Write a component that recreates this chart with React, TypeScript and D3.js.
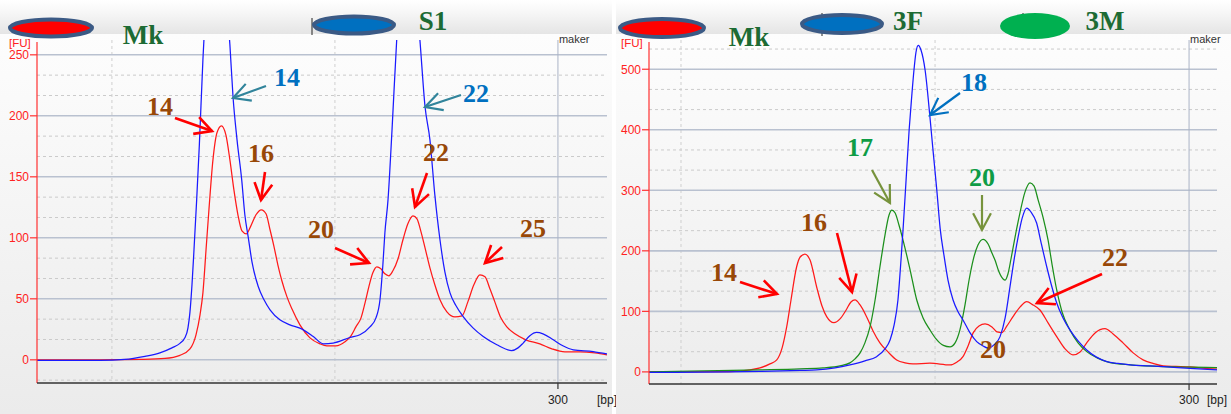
import React from "react";
import * as d3 from "d3";

type Pt = [number, number];

// ---------- DATA (x = position on the bp axis, y = fluorescence [FU]) ----------
const leftMk: Pt[] = [
  [66.4, 0], [94.6, 0], [112.6, 0.4], [123.8, 1.2], [130.5, 3.7], [135.0, 9.0], [137.7, 20.5], [139.5, 36.9],
  [140.8, 54.9], [142.2, 90.2], [143.5, 123.0], [145.3, 163.9], [147.1, 186.1], [149.1, 191.8], [151.1, 184.4],
  [152.9, 163.9], [154.7, 139.3], [156.5, 118.9], [158.3, 105.7], [160.3, 103.3], [162.3, 109.8], [164.6, 118.9],
  [167.0, 123.0], [169.1, 119.7], [170.9, 106.6], [172.6, 93.4], [174.4, 77.9], [176.2, 64.8], [178.5, 51.6],
  [180.7, 41.8], [184.3, 28.7], [188.8, 18.0], [193.3, 13.1], [196.4, 11.5], [200.4, 11.5], [204.5, 14.8],
  [207.2, 19.7], [209.4, 27.0], [211.7, 34.4], [213.5, 46.7], [215.2, 59.8], [217.0, 71.3], [218.8, 76.2],
  [220.6, 74.6], [222.4, 70.5], [224.2, 68.9], [226.0, 73.0], [228.3, 82.8], [230.5, 98.4], [232.7, 111.5],
  [235.0, 118.0], [236.8, 115.6], [238.6, 104.9], [240.4, 91.8], [242.6, 75.4], [244.8, 61.5], [247.1, 49.2],
  [250.2, 39.3], [253.8, 35.2], [257.0, 36.1], [259.6, 47.5], [262.3, 61.5], [265.0, 69.7], [267.3, 68.0],
  [269.5, 58.2], [271.7, 47.5], [274.4, 34.4], [277.1, 27.0], [280.7, 21.3], [285.6, 16.4], [291.9, 13.1],
  [297.3, 9.0], [303.1, 6.6], [309.9, 6.6], [316.6, 5.7], [322.0, 4.1],
];

const leftS1: Pt[] = [
  [66.4, -0.4], [94.6, -0.4], [105.8, 0.4], [114.8, 2.9], [121.5, 5.7], [126.9, 9.8], [130.5, 13.5], [132.7, 18.0],
  [134.1, 26.2], [135.0, 39.3], [135.9, 61.5], [136.8, 90.2], [138.0, 131.1], [139.2, 176.2], [140.8, 245.9],
  [142.2, 291.0], [143.9, 323.8], [146.9, 344.3], [149.8, 323.8], [151.6, 291.0], [152.9, 258.2], [154.3, 215.6],
  [156.1, 180.3], [158.2, 147.5], [159.6, 118.9], [161.1, 100.8], [162.8, 80.3], [165.6, 60.1], [168.2, 49.2],
  [170.9, 41.0], [175.3, 32.8], [179.8, 28.7], [184.3, 26.0], [190.3, 19.1], [194.8, 13.1], [199.2, 13.7],
  [206.7, 18.3], [211.2, 20.5], [215.7, 27.0], [218.4, 34.4], [220.2, 49.2], [221.5, 77.9], [222.4, 104.1],
  [223.8, 131.1], [225.6, 188.5], [227.7, 262.3], [229.1, 299.2], [230.5, 319.7], [232.7, 332.0], [235.0, 319.7],
  [236.8, 291.0], [238.1, 262.3], [240.4, 207.6], [242.6, 180.3], [244.8, 135.2], [247.1, 98.4], [249.3, 72.1],
  [251.6, 54.9], [254.3, 44.3], [257.5, 35.5], [261.9, 26.2], [266.5, 19.1], [272.6, 12.3], [279.2, 7.6],
  [282.1, 9.8], [284.4, 13.7], [287.4, 19.7], [290.4, 22.4], [293.3, 21.3], [297.9, 16.4], [302.2, 11.5],
  [306.9, 8.2], [315.8, 6.8], [322.0, 4.9],
];

const rightMk: Pt[] = [
  [87.4, 0], [119.3, 0.5], [127.2, 3.3], [131.1, 6.6], [135.0, 13.2], [137.7, 19.8], [139.8, 39.6], [141.6, 74.3],
  [143.3, 118.8], [145.5, 173.3], [146.9, 189.8], [148.8, 194.7], [150.8, 184.8], [153.4, 140.3], [155.5, 108.9],
  [157.4, 90.8], [158.7, 84.2], [160.2, 81.4], [162.6, 87.5], [165.0, 102.3], [166.9, 115.5], [168.5, 118.8],
  [170.5, 110.6], [173.1, 90.8], [175.6, 67.7], [178.3, 47.9], [181.5, 33.0], [184.9, 19.8], [188.2, 14.9],
  [191.3, 13.2], [198.0, 14.4], [205.9, 11.6], [208.7, 16.5], [211.0, 25.2], [213.0, 42.9], [215.0, 64.4],
  [217.3, 75.9], [219.7, 79.2], [222.4, 74.3], [224.4, 66.0], [226.3, 64.9], [228.3, 75.9], [230.7, 91.3],
  [233.5, 107.3], [236.1, 116.0], [238.6, 110.6], [241.3, 102.3], [244.5, 80.9], [247.9, 58.3], [251.2, 38.0],
  [254.3, 28.1], [257.1, 33.0], [259.7, 47.9], [263.0, 64.4], [266.9, 71.5], [270.1, 62.7], [274.0, 47.9],
  [278.0, 31.4], [281.9, 19.8], [285.8, 14.0], [289.8, 9.9], [294.9, 9.1], [300.4, 8.3], [306.3, 5.8], [311.0, 4.5],
];

const right3F: Pt[] = [
  [87.4, -0.8], [118.0, 0], [131.1, 0.8], [146.9, 2.5], [153.4, 3.3], [160.6, 6.6], [166.5, 11.6], [172.4, 18.2],
  [177.0, 25.2], [180.3, 38.0], [182.3, 52.8], [183.9, 77.6], [185.4, 118.8], [186.6, 184.8], [187.4, 234.3],
  [188.6, 316.8], [189.8, 399.3], [190.8, 453.8], [191.7, 498.3], [192.5, 528.1], [193.4, 539.6], [194.5, 531.4],
  [196.1, 498.3], [198.0, 420.8], [199.2, 366.3], [200.7, 300.3], [202.0, 237.6], [203.5, 193.1], [205.1, 151.8],
  [207.1, 118.8], [209.1, 99.0], [211.0, 85.8], [213.8, 64.4], [216.4, 50.0], [218.9, 42.9], [220.9, 39.1],
  [223.2, 44.6], [225.6, 58.3], [227.6, 89.1], [229.5, 140.3], [231.1, 184.8], [232.7, 222.8], [234.3, 254.1],
  [236.1, 270.6], [237.8, 264.0], [240.0, 245.9], [241.7, 214.5], [244.0, 173.3], [245.7, 145.2], [247.9, 113.9],
  [250.4, 89.1], [253.1, 69.3], [256.3, 51.2], [259.7, 36.3], [263.4, 24.8], [267.6, 17.0], [272.0, 14.0],
  [276.8, 11.6], [284.6, 9.9], [289.8, 8.7], [300.4, 5.8], [311.0, 3.3],
];

const right3M: Pt[] = [
  [87.4, 0], [131.1, 3.3], [146.9, 5.0], [155.9, 6.6], [162.6, 9.9], [166.5, 14.9], [168.5, 21.5], [170.5, 31.4],
  [172.4, 47.9], [174.4, 74.3], [176.4, 118.8], [178.3, 173.3], [180.3, 226.1], [181.9, 259.1], [183.0, 267.3],
  [184.3, 262.4], [185.8, 242.6], [187.4, 217.8], [190.2, 168.3], [192.8, 118.8], [195.3, 89.1], [198.0, 69.3],
  [200.4, 54.5], [203.3, 43.7], [205.9, 41.3], [207.9, 47.9], [209.8, 69.3], [211.8, 110.6], [213.4, 151.8],
  [215.0, 184.8], [216.9, 209.6], [218.9, 219.0], [220.9, 211.2], [222.4, 196.4], [223.6, 184.8], [225.2, 165.0],
  [226.8, 153.5], [227.6, 151.8], [228.7, 161.7], [229.9, 186.5], [231.5, 222.8], [233.5, 264.0], [235.4, 297.0],
  [237.4, 312.4], [239.0, 306.9], [240.6, 283.8], [242.5, 255.8], [244.5, 217.8], [246.1, 176.6], [247.9, 135.3],
  [250.0, 99.0], [253.1, 69.3], [256.3, 47.9], [259.7, 33.5], [263.8, 23.1], [268.9, 15.3], [276.8, 11.6],
  [289.8, 8.7], [300.4, 7.8], [311.0, 7.1],
];

const leftYTicks = [0, 50, 100, 150, 200, 250];
const rightYTicks = [0, 100, 200, 300, 400, 500];
const xMinorGrid = [100, 200];
const xLabeledTick = 300;

// ---------- LAYOUT ----------
type Cfg = {
  id: string;
  bgX0: number; bgX1: number;
  x0: number; x1: number; yTop: number; yBottom: number;
  xDomain: [number, number]; yDomain: [number, number];
  yTicks: number[]; minorStep: number;
};

const leftCfg: Cfg = {
  id: "L", bgX0: 0, bgX1: 612, x0: 37, x1: 607, yTop: 41.4, yBottom: 383,
  xDomain: [66.4, 322], yDomain: [-19, 261], yTicks: leftYTicks, minorStep: 50 / 3,
};
const rightCfg: Cfg = {
  id: "R", bgX0: 616, bgX1: 1231, x0: 649, x1: 1217, yTop: 42, yBottom: 384,
  xDomain: [87.4, 311], yDomain: [-20, 545], yTicks: rightYTicks, minorStep: 100 / 3,
};

const TRACE = { red: "#ff1a1a", blue: "#1a1aff", green: "#1b8f1b" };
const BROWN = "#984807";
const DKGREEN = "#1d6b34";
const TEXTBLUE = "#0070c0";
const LGREEN = "#0e9c45";
const TEAL = "#31849b";
const OLIVE = "#77933c";
const SERIF = "'Liberation Serif', 'Times New Roman', serif";
const SANS = "'Liberation Sans', Arial, sans-serif";

function Arrow({ x1, y1, x2, y2, color, width = 2.6, head = 19, angle = 28 }:
  { x1: number; y1: number; x2: number; y2: number; color: string; width?: number; head?: number; angle?: number }) {
  const a = Math.atan2(y1 - y2, x1 - x2);
  const r = (angle * Math.PI) / 180;
  const p1 = [x2 + head * Math.cos(a + r), y2 + head * Math.sin(a + r)];
  const p2 = [x2 + head * Math.cos(a - r), y2 + head * Math.sin(a - r)];
  return (
    <g stroke={color} strokeWidth={width} fill="none" strokeLinejoin="miter">
      <line x1={x1} y1={y1} x2={x2} y2={y2} />
      <polyline points={`${p1[0]},${p1[1]} ${x2},${y2} ${p2[0]},${p2[1]}`} />
    </g>
  );
}

function Label({ x, y, text, color, size = 26 }: { x: number; y: number; text: string; color: string; size?: number }) {
  return (
    <text x={x} y={y} textAnchor="middle" fontFamily={SERIF} fontWeight="bold" fontSize={size} fill={color}>
      {text}
    </text>
  );
}

function Panel({ cfg, series }: { cfg: Cfg; series: { data: Pt[]; color: string }[] }) {
  const x = d3.scaleLinear().domain(cfg.xDomain).range([cfg.x0, cfg.x1]);
  const y = d3.scaleLinear().domain(cfg.yDomain).range([cfg.yBottom, cfg.yTop]);
  const line = d3.line<Pt>().x((d) => x(d[0])).y((d) => y(d[1])).curve(d3.curveMonotoneX);

  const minors: number[] = [];
  for (let k = -3; k * cfg.minorStep <= cfg.yDomain[1]; k++) {
    const v = k * cfg.minorStep;
    if (v < cfg.yDomain[0]) continue;
    if (Math.abs(k % 3) === 0) continue;
    minors.push(v);
  }
  const clipId = `clip${cfg.id}`;
  const plotTop = 40;

  return (
    <g>
      <defs>
        <clipPath id={clipId}>
          <rect x={cfg.x0} y={plotTop} width={cfg.x1 - cfg.x0} height={cfg.yBottom - plotTop} />
        </clipPath>
      </defs>
      {/* backgrounds */}
      <rect x={cfg.bgX0} y={0} width={cfg.bgX1 - cfg.bgX0} height={34} fill="url(#hdrGrad)" />
      <rect x={cfg.bgX0} y={34} width={cfg.bgX1 - cfg.bgX0} height={414 - 34} fill="url(#bodyGrad)" />

      {/* minor dashed horizontal grid */}
      {minors.map((v) => (
        <line key={"m" + v} x1={cfg.x0} x2={cfg.x1} y1={y(v)} y2={y(v)} stroke="#cbcbcb" strokeDasharray="3,3" strokeWidth={1} />
      ))}
      {/* vertical dashed grid */}
      {xMinorGrid.map((v) => (
        <line key={"vx" + v} x1={x(v)} x2={x(v)} y1={plotTop} y2={cfg.yBottom} stroke="#cfcfcf" strokeDasharray="3,3" strokeWidth={1} />
      ))}
      {/* major horizontal grid */}
      {cfg.yTicks.map((v) => (
        <line key={"M" + v} x1={cfg.x0} x2={cfg.x1} y1={y(v)} y2={y(v)} stroke="#b9c1d0" strokeWidth={1.6} />
      ))}
      {/* 300 bp line */}
      <line x1={x(xLabeledTick)} x2={x(xLabeledTick)} y1={plotTop} y2={cfg.yBottom} stroke="#aab3c6" strokeWidth={1} />
      <text x={x(xLabeledTick) + 1} y={43} fontFamily={SANS} fontSize={11} fill="#333">maker</text>

      {/* traces */}
      <g clipPath={`url(#${clipId})`}>
        {series.map((s, i) => (
          <path key={i} d={line(s.data) || ""} fill="none" stroke={s.color} strokeWidth={1.25} />
        ))}
      </g>

      {/* y axis */}
      <line x1={cfg.x0} x2={cfg.x0} y1={42} y2={cfg.yBottom} stroke="#ff3030" strokeWidth={1.2} />
      {cfg.yTicks.map((v) => (
        <g key={"t" + v}>
          <line x1={cfg.x0 - 7} x2={cfg.x0} y1={y(v)} y2={y(v)} stroke="#ff3030" strokeWidth={1.2} />
          <text x={cfg.x0 - 8} y={y(v)} dy="0.36em" textAnchor="end" fontFamily={SANS} fontSize={12} fill="#f22">
            {v}
          </text>
        </g>
      ))}
      <text x={cfg.x0 - 28} y={47} fontFamily={SANS} fontSize={11.5} fill="#f22">[FU]</text>

      {/* x axis */}
      <line x1={cfg.x0} x2={cfg.x1} y1={cfg.yBottom} y2={cfg.yBottom} stroke="#333" strokeWidth={1.5} />
      <line x1={x(xLabeledTick)} x2={x(xLabeledTick)} y1={cfg.yBottom} y2={cfg.yBottom + 6} stroke="#333" strokeWidth={1.2} />
      <text x={x(xLabeledTick)} y={404} textAnchor="middle" fontFamily={SANS} fontSize={12} fill="#222">{xLabeledTick}</text>
      <text x={cfg.x1} y={404} textAnchor="middle" fontFamily={SANS} fontSize={12} fill="#222">[bp]</text>
    </g>
  );
}

export default function App() {
  return (
    <div style={{ position: "fixed", left: 0, top: 0 }}>
      <svg width={1231} height={414} style={{ display: "block" }}>
        <defs>
          <linearGradient id="hdrGrad" x1="0" y1="0" x2="0" y2="1">
            <stop offset="0" stopColor="#ffffff" />
            <stop offset="0.35" stopColor="#f7f7f7" />
            <stop offset="1" stopColor="#e5e5e5" />
          </linearGradient>
          <linearGradient id="bodyGrad" x1="0" y1="0" x2="0" y2="1">
            <stop offset="0" stopColor="#fdfdfd" />
            <stop offset="1" stopColor="#ebebeb" />
          </linearGradient>
        </defs>
        <rect x={0} y={0} width={1231} height={414} fill="#ffffff" />

        <Panel cfg={leftCfg} series={[{ data: leftMk, color: TRACE.red }, { data: leftS1, color: TRACE.blue }]} />
        <Panel
          cfg={rightCfg}
          series={[
            { data: rightMk, color: TRACE.red },
            { data: right3M, color: TRACE.green },
            { data: right3F, color: TRACE.blue },
          ]}
        />

        {/* legend ellipses */}
        <line x1={312} x2={312} y1={18} y2={35} stroke="#222" strokeWidth={1} />
        <line x1={822} x2={822} y1={13} y2={36} stroke="#222" strokeWidth={1} />
        <line x1={1023} x2={1023} y1={13} y2={22} stroke="#222" strokeWidth={1} />
        <ellipse cx={51} cy={28} rx={41} ry={8.5} fill="#ff0000" stroke="#3b5a85" strokeWidth={4} />
        <ellipse cx={354} cy={25} rx={40} ry={8.5} fill="#0070c0" stroke="#3b5a85" strokeWidth={4} />
        <ellipse cx={662} cy={28} rx={42} ry={9} fill="#ff0000" stroke="#3b5a85" strokeWidth={4} />
        <ellipse cx={842} cy={24} rx={40} ry={9} fill="#0070c0" stroke="#3b5a85" strokeWidth={4} />
        <ellipse cx={1035} cy={26} rx={35} ry={13} fill="#00b050" />

        <Label x={143} y={44} text="Mk" color={DKGREEN} size={27} />
        <Label x={433} y={30} text="S1" color={DKGREEN} size={27} />
        <Label x={749} y={46} text="Mk" color={DKGREEN} size={27} />
        <Label x={908} y={30} text="3F" color={DKGREEN} size={27} />
        <Label x={1105} y={30} text="3M" color={DKGREEN} size={27} />

        {/* left annotations */}
        <Label x={287} y={86} text="14" color={TEXTBLUE} />
        <Arrow x1={266} y1={86} x2={233} y2={98} color={TEAL} width={2.2} />
        <Label x={476} y={102} text="22" color={TEXTBLUE} />
        <Arrow x1={461} y1={95} x2={425} y2={107} color={TEAL} width={2.2} />
        <Label x={160} y={115} text="14" color={BROWN} />
        <Arrow x1={175} y1={118} x2={212} y2={131} color="#ff0000" />
        <Label x={261} y={162} text="16" color={BROWN} />
        <Arrow x1={265} y1={172} x2={261} y2={200} color="#ff0000" />
        <Label x={321} y={238} text="20" color={BROWN} />
        <Arrow x1={335} y1={248} x2={369} y2={263} color="#ff0000" />
        <Label x={436} y={161} text="22" color={BROWN} />
        <Arrow x1={427} y1={173} x2={415} y2={207} color="#ff0000" />
        <Label x={533} y={237} text="25" color={BROWN} />
        <Arrow x1={502} y1={247} x2={485} y2={263} color="#ff0000" />

        {/* right annotations */}
        <Label x={974} y={91} text="18" color={TEXTBLUE} />
        <Arrow x1={960} y1={93} x2={930} y2={115} color={TEXTBLUE} width={2.2} />
        <Label x={860} y={156} text="17" color={LGREEN} />
        <Arrow x1={872} y1={170} x2={890} y2={203} color={OLIVE} width={2.2} />
        <Label x={982} y={186} text="20" color={LGREEN} />
        <Arrow x1={982} y1={195} x2={982} y2={230} color={OLIVE} width={2.2} />
        <Label x={814} y={231} text="16" color={BROWN} />
        <Arrow x1={837} y1={233} x2={852} y2={292} color="#ff0000" />
        <Label x={724} y={281} text="14" color={BROWN} />
        <Arrow x1={740} y1={282} x2={777} y2={294} color="#ff0000" />
        <Label x={1115} y={266} text="22" color={BROWN} />
        <Arrow x1={1102} y1={274} x2={1037} y2={303} color="#ff0000" />
        <Label x={993} y={358} text="20" color={BROWN} />
      </svg>
    </div>
  );
}
